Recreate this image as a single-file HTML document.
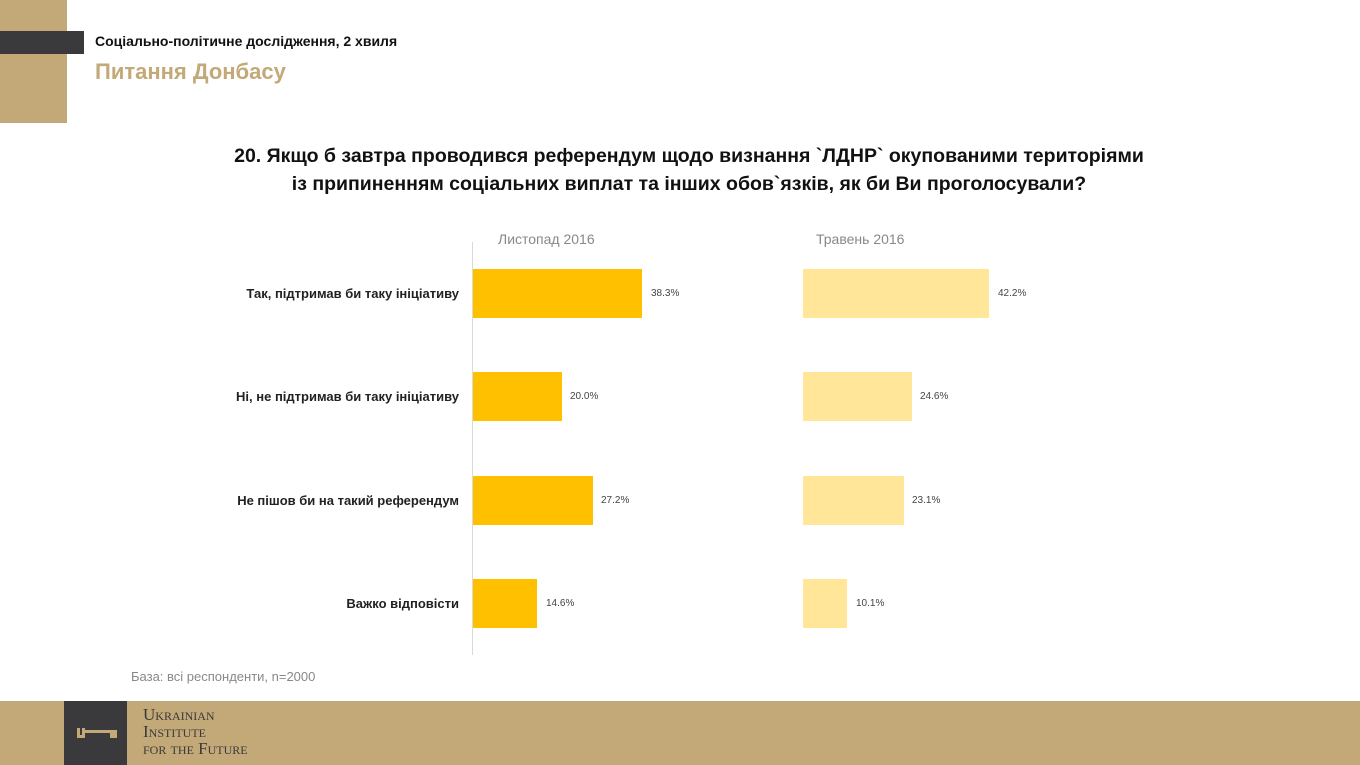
<!DOCTYPE html>
<html><head><meta charset="utf-8"><style>
body{margin:0;width:1360px;height:765px;position:relative;background:#fff;font-family:"Liberation Sans","DejaVu Sans",sans-serif;overflow:hidden}
.a{position:absolute}
.bar{position:absolute;height:49px}
.lab{position:absolute;right:901px;font-size:13px;font-weight:bold;color:#222;white-space:nowrap}
.v{position:absolute;font-size:10px;color:#444}
</style></head><body>
<div class="a" style="left:0;top:0;width:67px;height:123px;background:#c3a878"></div>
<div class="a" style="left:0;top:31px;width:84px;height:23px;background:#3a3a3c"></div>
<div class="a" style="left:95px;top:33px;font-size:14px;font-weight:bold;color:#111">Соціально-політичне дослідження, 2 хвиля</div>
<div class="a" style="left:95px;top:59px;font-size:22px;font-weight:bold;color:#c3a878">Питання Донбасу</div>
<div class="a" style="left:0;top:142px;width:1378px;text-align:center;font-size:19.5px;font-weight:bold;color:#111;line-height:28px">20. Якщо б завтра проводився референдум щодо визнання `ЛДНР` окупованими територіями<br>із припиненням соціальних виплат та інших обов`язків, як би Ви проголосували?</div>
<div class="a" style="left:472px;top:242px;width:1px;height:413px;background:#d9d9d9"></div>
<div class="a" style="left:498px;top:231px;font-size:14px;color:#888">Листопад 2016</div>
<div class="a" style="left:816px;top:231px;font-size:14px;color:#888">Травень 2016</div>

<div class="lab" style="top:286px">Так, підтримав би таку ініціативу</div>
<div class="lab" style="top:389px">Ні, не підтримав би таку ініціативу</div>
<div class="lab" style="top:493px">Не пішов би на такий референдум</div>
<div class="lab" style="top:596px">Важко відповісти</div>

<div class="bar" style="left:473px;top:269px;width:169px;background:#ffc000"></div>
<div class="bar" style="left:473px;top:372px;width:89px;background:#ffc000"></div>
<div class="bar" style="left:473px;top:476px;width:120px;background:#ffc000"></div>
<div class="bar" style="left:473px;top:579px;width:64px;background:#ffc000"></div>
<div class="v" style="left:651px;top:288px">38.3%</div>
<div class="v" style="left:570px;top:391px">20.0%</div>
<div class="v" style="left:601px;top:495px">27.2%</div>
<div class="v" style="left:546px;top:598px">14.6%</div>

<div class="bar" style="left:803px;top:269px;width:186px;background:#ffe699"></div>
<div class="bar" style="left:803px;top:372px;width:109px;background:#ffe699"></div>
<div class="bar" style="left:803px;top:476px;width:101px;background:#ffe699"></div>
<div class="bar" style="left:803px;top:579px;width:44px;background:#ffe699"></div>
<div class="v" style="left:998px;top:288px">42.2%</div>
<div class="v" style="left:920px;top:391px">24.6%</div>
<div class="v" style="left:912px;top:495px">23.1%</div>
<div class="v" style="left:856px;top:598px">10.1%</div>

<div class="a" style="left:131px;top:669px;font-size:13px;color:#888">База: всі респонденти, n=2000</div>

<div class="a" style="left:0;top:701px;width:1360px;height:64px;background:#c3a878"></div>
<div class="a" style="left:64px;top:701px;width:63px;height:64px;background:#3a3a3c"></div>
<div class="a" style="left:77px;top:728px;width:8px;height:10px;border:3px solid #c3a878;border-top:none;box-sizing:border-box"></div>
<div class="a" style="left:83px;top:730px;width:34px;height:3px;background:#c3a878"></div>
<div class="a" style="left:110px;top:730px;width:7px;height:8px;background:#c3a878"></div>
<div class="a" style="left:143px;top:706px;font-family:'Liberation Serif',serif;font-size:17px;color:#3a3a3c;line-height:17px;font-variant:small-caps">Ukrainian<br>Institute<br>for the Future</div>
</body></html>
